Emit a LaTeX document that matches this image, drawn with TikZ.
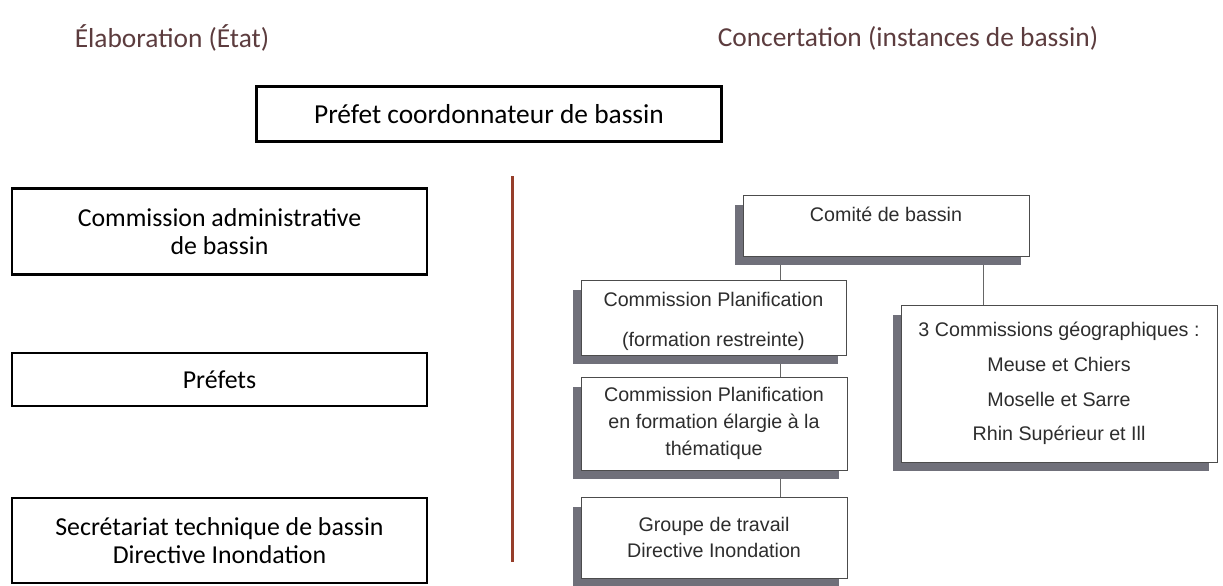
\documentclass[tikz,border=0pt]{standalone}
\usepackage{fontspec}
\setmainfont{Carlito}
\newfontfamily\arialfont{Liberation Sans}
\usetikzlibrary{shadows,backgrounds,calc}

\definecolor{titlebrown}{RGB}{92,60,62}
\definecolor{splitred}{RGB}{150,62,42}
\definecolor{shadowgray}{RGB}{112,112,122}
\definecolor{boxtext}{RGB}{45,45,45}

\begin{document}
\begin{tikzpicture}[x=0.02cm, y=-0.02cm,
title/.style = {text=titlebrown, font=\fontsize{15.6}{18}\selectfont},
etat/.style = {draw, line width=1.2pt, minimum width=8.3cm, align=center,
  font=\fontsize{14.7}{16.2}\selectfont},
bassin/.style = {draw=gray!60!black, fill=white, align=center, text=boxtext,
  font=\arialfont\fontsize{11.2}{#1}\selectfont,
  drop shadow={shadow xshift=-0.16cm, shadow yshift=-0.19cm, fill=shadowgray, opacity=1}},
bassin/.default = 15.3,
link/.style = {draw=gray!80!black, thin}]
\useasboundingbox (0,0) rectangle (1223,585);

\node[title] (elab) at (172,38) {Élaboration (État)};
\node[title] (conc) at (908,38) {Concertation (instances de bassin)};

\node[etat, minimum width=9.3cm, minimum height=1.1cm,
  font=\fontsize{15.6}{18}\selectfont] (pcb) at (489,114) {Préfet coordonnateur de bassin};

\node[etat, minimum height=1.72cm] (cab) at (219.5,231.5) {Commission administrative\\de bassin};
\node[etat, minimum height=1.06cm] (prefets) at (219.5,379.5) {Préfets};
\node[etat, minimum height=1.7cm] (stb) at (219.5,540.5) {Secrétariat technique de bassin\\Directive Inondation};

\draw[splitred, line width=1.7pt] (512,176) -- (512,562);

\node[bassin, minimum width=5.72cm, minimum height=1.22cm, text depth=0.46cm] (comite) at (886,225.5) {Comité de bassin};
\node[bassin=22.7, minimum width=5.3cm, minimum height=1.5cm, text height=1.25cm, inner ysep=1pt] (cpr) at (713.5,317.5) {Commission Planification\\(formation restreinte)};
\node[bassin, minimum width=5.32cm, minimum height=1.86cm] (cpe) at (714,423.5) {Commission Planification\\en formation élargie à la\\thématique};
\node[bassin, minimum width=5.32cm, minimum height=1.62cm] (gdt) at (714,537.5) {Groupe de travail\\Directive Inondation};
\node[bassin=19.8, minimum width=6.32cm, minimum height=3.14cm] (cgeo) at (1059,383.5) {3 Commissions géographiques :\\Meuse et Chiers\\Moselle et Sarre\\Rhin Supérieur et Ill};

\coordinate (c1) at ($(comite.south west)!0.133!(comite.south east)$);
\coordinate (c2) at ($(comite.south west)!0.839!(comite.south east)$);
\begin{scope}[on background layer]
\draw[link] (c1) -- (c1 |- cpr.north);
\draw[link] (c1 |- cpr.south) -- (c1 |- cpe.north);
\draw[link] (c1 |- cpe.south) -- (c1 |- gdt.north);
\draw[link] (c2) -- (c2 |- cgeo.north);
\end{scope}
\end{tikzpicture}
\end{document}
